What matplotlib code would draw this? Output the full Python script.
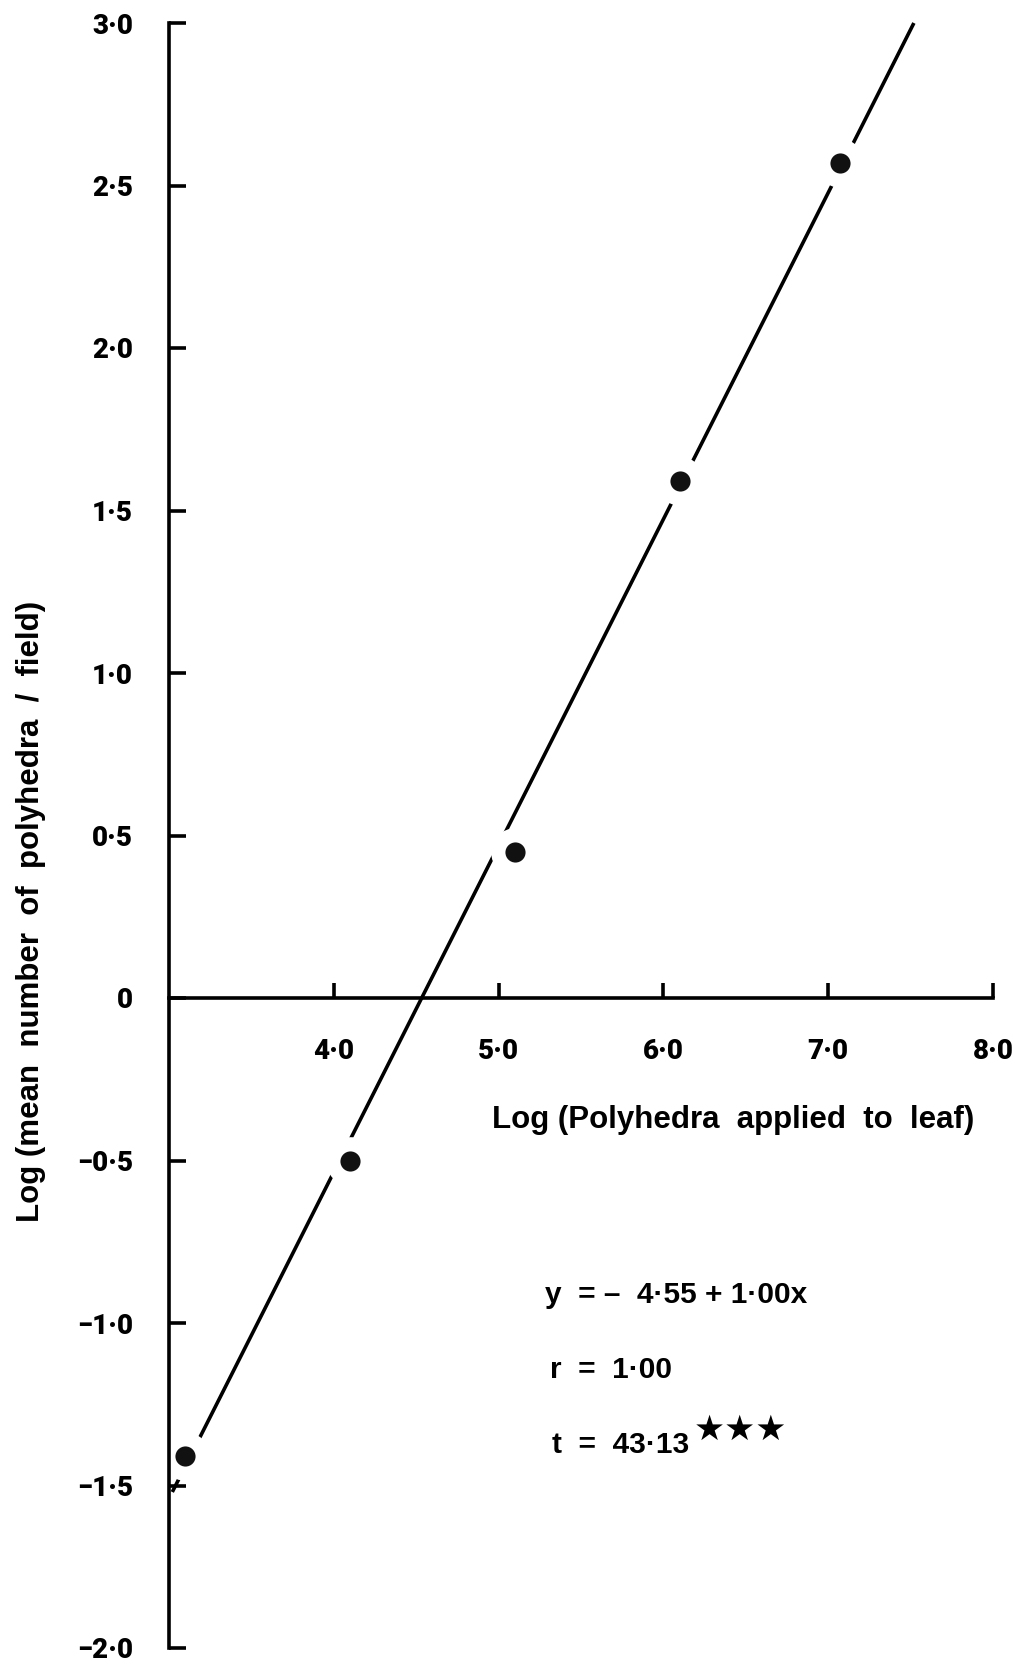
import matplotlib
matplotlib.use("Agg")
import matplotlib.pyplot as plt

# ---- data ----
log_applied = [3.10, 4.10, 5.10, 6.10, 7.07]
log_mean = [-1.41, -0.50, 0.45, 1.59, 2.57]

# regression line endpoints (as drawn)
line_x = [3.02, 7.52]
line_y = [-1.52, 3.00]

x_ticks = [4.0, 5.0, 6.0, 7.0, 8.0]
x_ticklabels = ["4·0", "5·0", "6·0", "7·0", "8·0"]
y_ticks = [3.0, 2.5, 2.0, 1.5, 1.0, 0.5, 0.0, -0.5, -1.0, -1.5, -2.0]
y_ticklabels = ["3·0", "2·5", "2·0", "1·5", "1·0", "0·5", "0",
                "−0·5", "−1·0", "−1·5", "−2·0"]

eq_text = "y  = –  4·55 + 1·00x"
r_text = "r  =  1·00"
t_text = "t  =  43·13"
stars = "★★★"

SANS = ["Liberation Sans", "DejaVu Sans"]
HEAVY = ["Roboto", "Liberation Sans", "DejaVu Sans"]

W, H = 1024, 1666
fig = plt.figure(figsize=(W / 100, H / 100), dpi=100)
left, right, top, bottom = 169, 993, 23, 1648
ax = fig.add_axes([left / W, 1 - bottom / H, (right - left) / W, (bottom - top) / H])
ax.set_xlim(3.0, 8.0)
ax.set_ylim(-2.0, 3.0)

lw = 2.6
ax.spines["top"].set_visible(False)
ax.spines["right"].set_visible(False)
ax.spines["bottom"].set_position(("data", 0))
for s in ("left", "bottom"):
    ax.spines[s].set_linewidth(lw)
    ax.spines[s].set_zorder(2.5)

ax.set_xticks(x_ticks)
ax.set_xticklabels(x_ticklabels)
ax.set_yticks(y_ticks)
ax.set_yticklabels(y_ticklabels)
for lbl in ax.get_xticklabels() + ax.get_yticklabels():
    lbl.set_fontfamily(HEAVY)
    lbl.set_fontweight(900)
    lbl.set_fontsize(20)
ax.tick_params(axis="x", direction="in", length=11, width=lw, pad=29)
ax.tick_params(axis="y", direction="in", length=12, width=lw, pad=26)

# regression line
ax.plot(line_x, line_y, color="black", lw=2.6, zorder=1.0, clip_on=False,
        solid_capstyle="butt")
# white halos (gaps in the line around each point)
ax.plot(log_applied, log_mean, linestyle="none", marker="o", markersize=35,
        markerfacecolor="white", markeredgecolor="none", zorder=1.2, clip_on=False)
# data points
ax.plot(log_applied, log_mean, linestyle="none", marker="o", markersize=14.5,
        markerfacecolor="#111111", markeredgecolor="none", zorder=3, clip_on=False)

# axis labels
fig.text(492 / W, 1 - 1120 / H, "Log (Polyhedra  applied  to  leaf)",
         ha="left", va="center", fontsize=22.5, fontweight="bold", family=SANS)
fig.text(31 / W, 1 - 911 / H, "Log (mean  number  of  polyhedra  /  field)",
         ha="center", va="center", rotation=90, fontsize=22.5, fontweight="bold",
         family=SANS)

# annotations
fig.text(545 / W, 1 - 1295 / H, eq_text, ha="left", va="center",
         fontsize=21.5, fontweight="bold", family=SANS)
fig.text(550 / W, 1 - 1370 / H, r_text, ha="left", va="center",
         fontsize=21.5, fontweight="bold", family=SANS)
fig.text(552 / W, 1 - 1445 / H, t_text, ha="left", va="center",
         fontsize=21.5, fontweight="bold", family=SANS)
fig.text(694 / W, 1 - 1430 / H, stars, ha="left", va="center",
         fontsize=25, family=["DejaVu Sans"])

fig.savefig("out.png", dpi=100, facecolor="white")
